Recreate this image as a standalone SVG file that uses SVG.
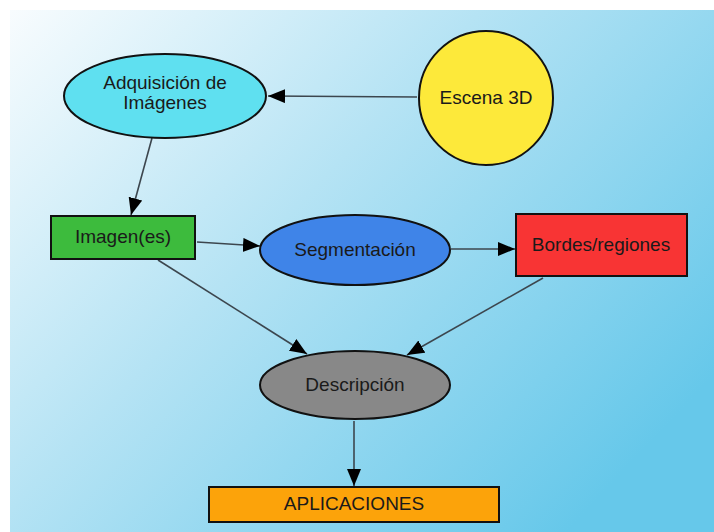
<svg xmlns="http://www.w3.org/2000/svg" width="714" height="532" viewBox="0 0 714 532">
<defs>
<linearGradient id="bg" x1="0" y1="0" x2="1" y2="0.7">
<stop offset="0" stop-color="#f8fcfe"/>
<stop offset="0.45" stop-color="#b5e3f4"/>
<stop offset="1" stop-color="#66c8ea"/>
</linearGradient>
<marker id="arr" markerUnits="userSpaceOnUse" markerWidth="20" markerHeight="16" refX="17" refY="7" orient="auto">
<path d="M0,0 L17,7 L0,14 z" fill="#000"/>
</marker>
<style>
.n{stroke:#111;stroke-width:2}
.t{font-family:"Liberation Sans",Arial,sans-serif;font-size:19px;fill:#1a1a1a;text-anchor:middle}
.c{stroke:#3c464e;stroke-width:1.6;fill:none;marker-end:url(#arr)}
</style>
</defs>
<rect x="0" y="0" width="714" height="532" fill="#ffffff"/>
<rect x="10" y="10" width="704" height="522" fill="url(#bg)"/>
<g id="connectors">
<line class="c" x1="417" y1="97" x2="268" y2="96"/>
<line class="c" x1="152" y1="138" x2="131" y2="215"/>
<line class="c" x1="197" y1="242" x2="260" y2="246"/>
<line class="c" x1="451" y1="249" x2="515" y2="249"/>
<line class="c" x1="158" y1="260" x2="307" y2="354"/>
<line class="c" x1="543" y1="278" x2="407" y2="355"/>
<line class="c" x1="354" y1="421" x2="354" y2="486"/>
</g>
<g id="adquisicion">
<ellipse class="n" cx="165" cy="96" rx="101" ry="42" fill="#5fe0f0"/>
<text class="t" x="165" y="89">Adquisición de</text>
<text class="t" x="165" y="109">Imágenes</text>
</g>
<g id="escena">
<circle class="n" cx="486" cy="98" r="67" fill="#fde93a"/>
<text class="t" x="486" y="104">Escena 3D</text>
</g>
<g id="imagenes">
<rect class="n" x="51" y="216" width="144" height="43" fill="#3dbb3d"/>
<text class="t" x="123" y="243">Imagen(es)</text>
</g>
<g id="segmentacion">
<ellipse class="n" cx="355" cy="250" rx="95" ry="35" fill="#3f84e8"/>
<text class="t" x="355" y="256">Segmentación</text>
</g>
<g id="bordes">
<rect class="n" x="516" y="214" width="171" height="62" fill="#f83434"/>
<text class="t" x="601" y="251">Bordes/regiones</text>
</g>
<g id="descripcion">
<ellipse class="n" cx="355" cy="385" rx="95" ry="34" fill="#888888"/>
<text class="t" x="355" y="391">Descripción</text>
</g>
<g id="aplicaciones">
<rect class="n" x="209" y="487" width="290" height="35" fill="#fca30a"/>
<text class="t" x="354" y="510">APLICACIONES</text>
</g>
</svg>
